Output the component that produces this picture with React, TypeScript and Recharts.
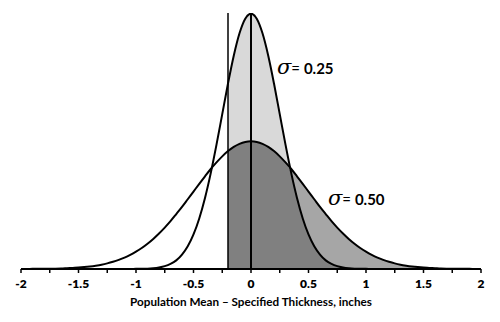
import {
  ComposedChart,
  Area,
  Line,
  XAxis,
  YAxis,
  ReferenceLine,
} from 'recharts'

// thickness deviation, inches (step 0.05)
const xValues = [
  -2, -1.95, -1.9, -1.85, -1.8, -1.75, -1.7, -1.65, -1.6, -1.55, -1.5, -1.45, -1.4, -1.35, -1.3, -1.25,
  -1.2, -1.15, -1.1, -1.05, -1, -0.95, -0.9, -0.85, -0.8, -0.75, -0.7, -0.65, -0.6, -0.55, -0.5, -0.45,
  -0.4, -0.35, -0.3, -0.25, -0.2, -0.15, -0.1, -0.05, 0, 0.05, 0.1, 0.15, 0.2, 0.25, 0.3, 0.35,
  0.4, 0.45, 0.5, 0.55, 0.6, 0.65, 0.7, 0.75, 0.8, 0.85, 0.9, 0.95, 1, 1.05, 1.1, 1.15,
  1.2, 1.25, 1.3, 1.35, 1.4, 1.45, 1.5, 1.55, 1.6, 1.65, 1.7, 1.75, 1.8, 1.85, 1.9, 1.95, 2,
]

// narrow curve (sigma = 0.25)
const sigma25 = [
  0, 0, 0, 0, 0, 0, 0, 0, 0, 0, 0, 0, 0, 0, 0, 0,
  0, 0, 0, 0, 0.001, 0.001, 0.002, 0.005, 0.01, 0.018, 0.032, 0.054, 0.09, 0.142, 0.216, 0.316,
  0.444, 0.599, 0.777, 0.968, 1.159, 1.333, 1.473, 1.564, 1.596, 1.564, 1.473, 1.333, 1.159, 0.968, 0.777, 0.599,
  0.444, 0.316, 0.216, 0.142, 0.09, 0.054, 0.032, 0.018, 0.01, 0.005, 0.002, 0.001, 0.001, 0, 0, 0,
  0, 0, 0, 0, 0, 0, 0, 0, 0, 0, 0, 0, 0, 0, 0, 0, 0,
]

// wide curve (sigma = 0.50)
const sigma50 = [
  0, 0, 0.001, 0.001, 0.001, 0.002, 0.002, 0.003, 0.005, 0.007, 0.009, 0.012, 0.016, 0.021, 0.027, 0.035,
  0.045, 0.057, 0.071, 0.088, 0.108, 0.131, 0.158, 0.188, 0.222, 0.259, 0.299, 0.343, 0.388, 0.436, 0.484, 0.532,
  0.579, 0.625, 0.666, 0.704, 0.737, 0.763, 0.782, 0.794, 0.798, 0.794, 0.782, 0.763, 0.737, 0.704, 0.666, 0.625,
  0.579, 0.532, 0.484, 0.436, 0.388, 0.343, 0.299, 0.259, 0.222, 0.188, 0.158, 0.131, 0.108, 0.088, 0.071, 0.057,
  0.045, 0.035, 0.027, 0.021, 0.016, 0.012, 0.009, 0.007, 0.005, 0.003, 0.002, 0.002, 0.001, 0.001, 0.001, 0, 0,
]

const axisTicks = [-2, -1.75, -1.5, -1.25, -1, -0.75, -0.5, -0.25, 0, 0.25, 0.5, 0.75, 1, 1.25, 1.5, 1.75, 2]
const labelledTicks = [-2, -1.5, -1, -0.5, 0, 0.5, 1, 1.5, 2]

const specLimit = -0.2
const peak25 = 1.596

const chartData = xValues.map((x, i) => {
  const inside = x >= specLimit - 1e-9
  return {
    x,
    s25: sigma25[i],
    s50: sigma50[i],
    fill25: inside ? sigma25[i] : null,
    fill50: inside ? sigma50[i] : null,
    overlap: inside ? Math.min(sigma25[i], sigma50[i]) : null,
  }
})

const font = 'Lato, "Open Sans", sans-serif'

function AxisTick({ x, y, payload }: any) {
  const v = payload.value
  if (!labelledTicks.some((t) => Math.abs(t - v) < 1e-9)) return null
  return (
    <text x={x} y={y + 13} textAnchor="middle" fontFamily={font} fontWeight={800} fontSize={12} fill="#000">
      {String(v)}
    </text>
  )
}

function SigmaLabel({ left, top, value }: { left: number; top: number; value: string }) {
  return (
    <div
      style={{
        position: 'absolute',
        left,
        top,
        whiteSpace: 'nowrap',
        fontSize: 15,
        lineHeight: '18px',
        color: '#000',
      }}
    >
      <span style={{ fontFamily: '"DejaVu Serif", serif', fontStyle: 'italic', fontSize: 21 }}>σ</span>
      <span style={{ fontFamily: font }}>= </span>
      <span style={{ fontFamily: font, fontWeight: 700 }}>{value}</span>
    </div>
  )
}

export default function App() {
  return (
    <div style={{ position: 'fixed', left: 0, top: 0, width: 500, height: 322, background: '#fff' }}>
      <ComposedChart
        width={500}
        height={322}
        data={chartData}
        margin={{ top: 13, right: 19, left: 21, bottom: 0 }}
      >
        <XAxis
          dataKey="x"
          type="number"
          domain={[-2, 2]}
          ticks={axisTicks}
          interval={0}
          tickSize={4}
          tick={<AxisTick />}
          axisLine={{ stroke: '#000', strokeWidth: 2 }}
          tickLine={{ stroke: '#000', strokeWidth: 1.5 }}
          height={53}
          label={{
            value: 'Population Mean \u2013 Specified Thickness, inches',
            position: 'insideBottom',
            offset: 16,
            style: { fontFamily: font, fontWeight: 700, fontSize: 11.7, fill: '#000' },
          }}
        />
        <YAxis hide type="number" domain={[0, 1.6]} allowDataOverflow />
        <Area dataKey="fill50" type="monotone" stroke="none" fill="#a6a6a6" fillOpacity={1} isAnimationActive={false} />
        <Area dataKey="fill25" type="monotone" stroke="none" fill="#d9d9d9" fillOpacity={1} isAnimationActive={false} />
        <Area dataKey="overlap" type="monotone" stroke="none" fill="#808080" fillOpacity={1} isAnimationActive={false} />
        <ReferenceLine x={specLimit} stroke="#000" strokeWidth={1.5} />
        <ReferenceLine
          segment={[{ x: 0, y: 0 }, { x: 0, y: peak25 }]}
          stroke="#000"
          strokeWidth={2}
        />
        <Line dataKey="s50" type="monotone" stroke="#000" strokeWidth={2} dot={false} isAnimationActive={false} />
        <Line dataKey="s25" type="monotone" stroke="#000" strokeWidth={2} dot={false} isAnimationActive={false} />
      </ComposedChart>
      <SigmaLabel left={277} top={58} value="0.25" />
      <SigmaLabel left={328} top={189} value="0.50" />
    </div>
  )
}
